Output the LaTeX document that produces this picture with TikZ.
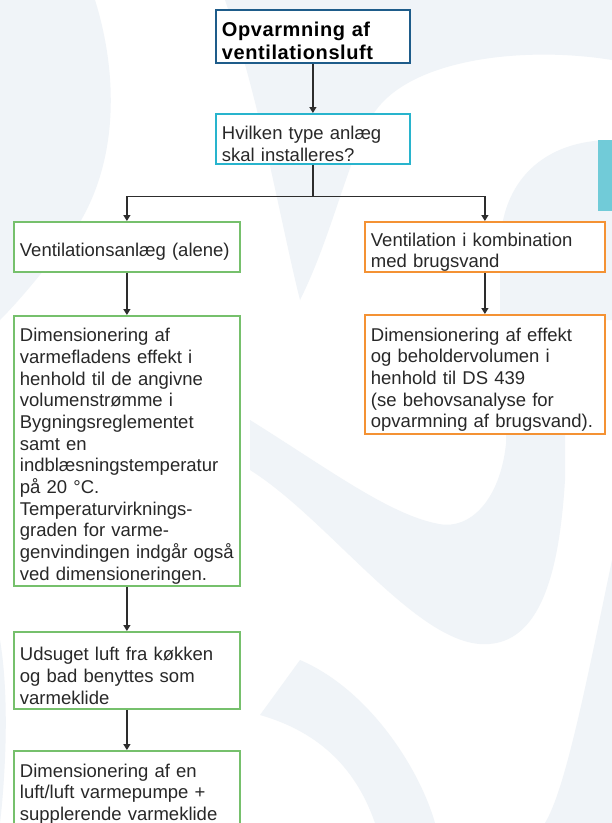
\documentclass[tikz,border=0pt]{standalone}
\usepackage{fontspec}
\setmainfont{Liberation Sans}
\newfontfamily\titlefont[LetterSpace=3.0]{Liberation Sans}
\usetikzlibrary{arrows.meta}
\definecolor{pale}{RGB}{240,244,248}
\definecolor{titleblue}{RGB}{30,92,138}
\definecolor{cyanb}{RGB}{40,180,205}
\definecolor{greenb}{RGB}{118,192,108}
\definecolor{orangeb}{RGB}{244,146,52}
\definecolor{tabc}{RGB}{113,203,216}
\definecolor{linec}{RGB}{45,45,45}
\definecolor{textc}{RGB}{40,40,40}
\tikzset{
  box/.style={draw, fill=white, line width=1.8pt, rectangle, anchor=north west,
    inner xsep=6pt, inner ysep=0pt, align=left, text=textc,
    font=\fontsize{18.5}{21.7}\selectfont,
    execute at begin node={\rule{0pt}{24pt}}},
  titlebox/.style={box, draw=titleblue, text=black,
    font=\titlefont\bfseries\fontsize{20}{23}\selectfont,
    execute at begin node={\rule{0pt}{22pt}}},
  qbox/.style={box, draw=cyanb},
  gbox/.style={box, draw=greenb},
  obox/.style={box, draw=orangeb},
  arr/.style={draw=linec, line width=1.2pt, -{Triangle[length=6pt,width=7pt]}},
  conn/.style={draw=linec, line width=1.2pt},
}
\begin{document}
\begin{tikzpicture}[x=1pt,y=-1pt]
\useasboundingbox (0,0) rectangle (612,823);
\clip (0,0) rectangle (612,823);
% background
\fill[white] (0,0) rectangle (612,823);
\fill[pale] (0,0) -- (95,0) .. controls (120,80) and (120,180) .. (60,250)
  .. controls (40,275) and (20,300) .. (0,320) -- cycle;
\fill[pale] (225,0) -- (612,0) -- (612,60) .. controls (520,45) and (400,60) .. (370,120)
  .. controls (345,170) and (330,240) .. (300,300) .. controls (280,220) and (260,100) .. (225,0) -- cycle;
\fill[pale] (612,140) .. controls (545,140) and (500,180) .. (500,250) -- (500,320) -- (612,320) -- cycle;
\fill[pale] (250,420) .. controls (330,470) and (390,515) .. (439,524)
  .. controls (470,530) and (500,500) .. (506,444) -- (506,300) -- (565,300) -- (565,480)
  .. controls (560,560) and (545,640) .. (489,644) .. controls (420,650) and (330,520) .. (250,470) -- cycle;
\fill[pale] (612,560) .. controls (585,690) and (565,790) .. (545,823) -- (612,823) -- cycle;
\fill[pale] (300,660) .. controls (370,690) and (420,770) .. (435,823) -- (375,823)
  .. controls (360,780) and (330,735) .. (260,715) -- cycle;
\fill[pale] (0,640) .. controls (10,700) and (5,780) .. (0,823) -- cycle;
% side tab
\fill[tabc] (598,140) rectangle (612,211);
% nodes
\node[titlebox, text width=182pt, minimum height=53pt] (t) at (215,9)
  {Opvarmning af\\ventilationsluft};
\node[qbox, text width=182pt, minimum height=50pt] (q) at (215,113)
  {Hvilken type anlæg\\skal installeres?};
\node[gbox, text width=214pt, minimum height=50pt] (a) at (13,221)
  {Ventilationsanlæg (alene)};
\node[obox, text width=228pt, minimum height=50pt] (b) at (364,221)
  {Ventilation i kombination\\med brugsvand};
\node[gbox, text width=214pt, minimum height=270pt] (c) at (13,315)
  {Dimensionering af\\varmefladens effekt i\\henhold til de angivne\\volumenstrømme i\\Bygningsreglementet\\samt en\\indblæsningstemperatur\\på 20 °C.\\Temperaturvirknings-\\graden for varme-\\genvindingen indgår også\\ved dimensioneringen.};
\node[obox, text width=228pt, minimum height=119pt] (d) at (364,314)
  {Dimensionering af effekt\\og beholdervolumen i\\henhold til DS 439\\(se behovsanalyse for\\opvarmning af brugsvand).};
\node[gbox, text width=214pt, minimum height=77pt] (e) at (13,631)
  {Udsuget luft fra køkken\\og bad benyttes som\\varmeklide};
\node[gbox, text width=214pt, minimum height=76pt] (f) at (13,750)
  {Dimensionering af en\\luft/luft varmepumpe +\\supplerende varmeklide};
% connectors
\draw[arr] (t) -- (q);
\draw[conn] (q.south) -- ++(0,32) coordinate (split);
\draw[arr] (split) -| (a.north);
\draw[arr] (split) -| (b.north);
\draw[arr] (a) -- (c);
\draw[arr] (b) -- (d);
\draw[arr] (c) -- (e);
\draw[arr] (e) -- (f);
\end{tikzpicture}
\end{document}
